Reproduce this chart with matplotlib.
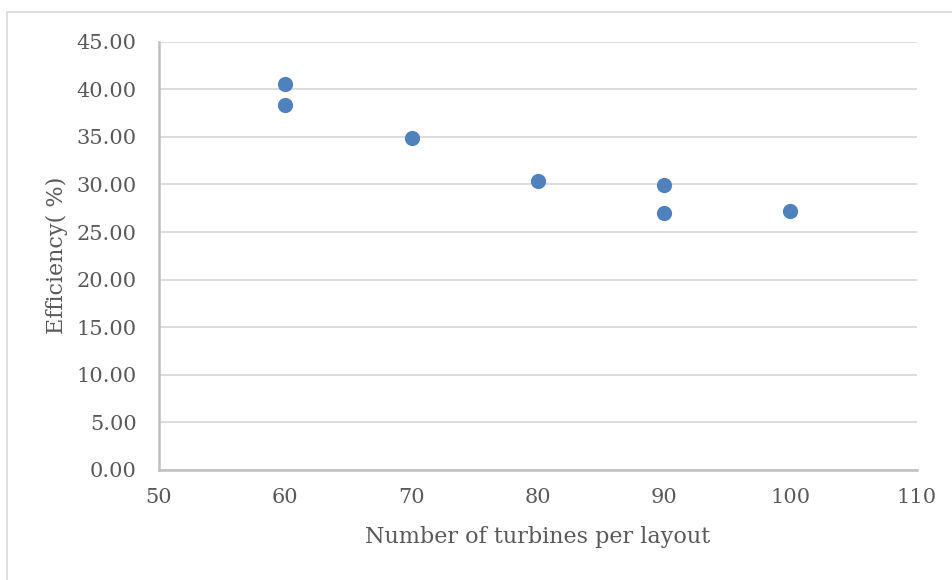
import matplotlib.pyplot as plt
from matplotlib.patches import Rectangle

# turbines per layout vs. efficiency
turbines = [60, 60, 70, 80, 90, 90, 100]
efficiency = [40.53, 38.31, 34.89, 30.38, 29.96, 26.97, 27.21]

x_ticks = [50, 60, 70, 80, 90, 100, 110]
y_ticks = [0, 5, 10, 15, 20, 25, 30, 35, 40, 45]

txt = '#595959'
plt.rcParams['font.family'] = ['DejaVu Serif']

fig = plt.figure(figsize=(9.52, 5.80), dpi=100)
ax = fig.add_axes([0.167, 0.19, 0.796, 0.738])

# frame around the chart area (right and bottom edges run off the canvas)
fig.patches.append(Rectangle((7 / 952, -10 / 580), 960 / 952, 578 / 580,
                             transform=fig.transFigure, fill=False,
                             edgecolor='#d9d9d9', linewidth=1.2))

ax.scatter(turbines, efficiency, s=120, color='#4f81bd', zorder=3, linewidths=0)

ax.set_xlim(50, 110)
ax.set_ylim(0, 45)
ax.set_xticks(x_ticks)
ax.set_yticks(y_ticks)
ax.set_yticklabels(['%.2f' % v for v in y_ticks])

ax.yaxis.grid(True, color='#d9d9d9', linewidth=1.3)
ax.set_axisbelow(True)
for side in ['top', 'right']:
    ax.spines[side].set_visible(False)
for side in ['left', 'bottom']:
    ax.spines[side].set_color('#bfbfbf')
    ax.spines[side].set_linewidth(1.8)

ax.tick_params(axis='both', length=0, labelsize=15, labelcolor=txt)
ax.tick_params(axis='y', pad=16)
ax.tick_params(axis='x', pad=13)

ax.set_xlabel('Number of turbines per layout', fontsize=16, color=txt, labelpad=14)
ax.set_ylabel('Efficiency( %)', fontsize=16, color=txt, labelpad=6)

fig.savefig('out.png', dpi=100)
